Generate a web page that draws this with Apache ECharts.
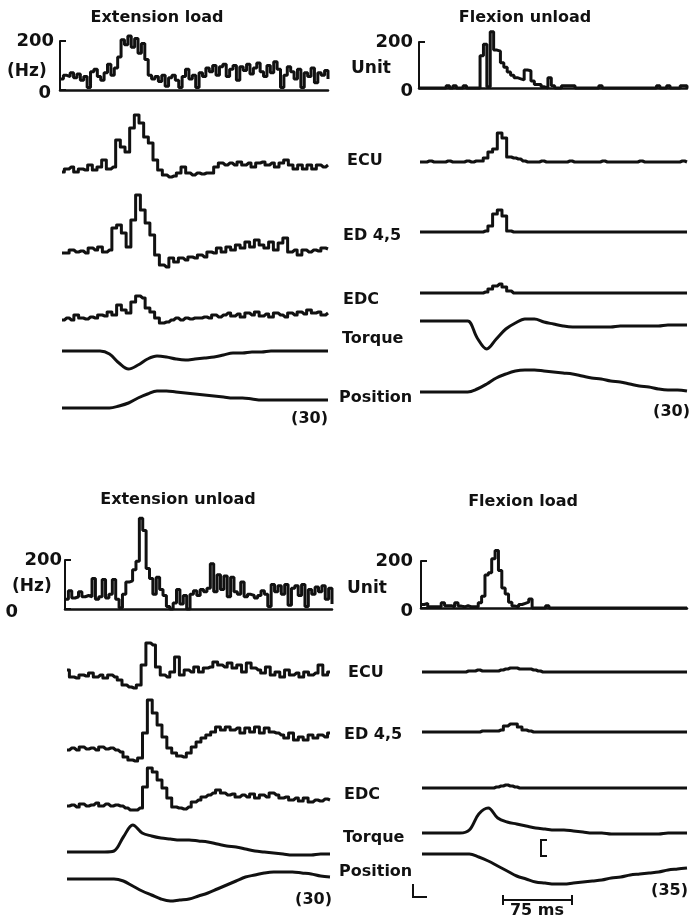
<!DOCTYPE html>
<html>
<head>
<meta charset="utf-8">
<title>Unit and EMG responses to load and unload</title>
<script src="https://cdn.jsdelivr.net/npm/echarts@6/dist/echarts.min.js"></script>
<style>
  html, body { margin: 0; padding: 0; background: #fff; }
  #chart { width: 694px; height: 918px; }
</style>
</head>
<body>
<div id="chart"></div>
<script>
// histogram axis ticks (Hz)
const histTicks = [0, 200];

// Extension load
const extLoadUnit = [45, 60, 55, 70, 50, 65, 40, 55, 10, 75, 85, 55, 40, 70, 105, 60, 90,
  135, 205, 185, 220, 175, 210, 150, 190, 125, 60, 45, 55, 35, 60, 15, 50, 60, 40, 10,
  55, 85, 45, 60, 10, 70, 55, 90, 75, 100, 60, 95, 105, 55, 85, 100, 40, 95, 80, 105,
  65, 90, 110, 75, 55, 100, 70, 115, 85, 10, 60, 95, 75, 45, 85, 10, 70, 55, 90, 30, 70, 60, 80, 45];
const extLoadEcu = [8, 11, 13, 8, 11, 10, 15, 10, 13, 20, 11, 13, 40, 33, 28, 52, 65, 57, 43, 37,
  20, 10, 5, 3, 4, 7, 13, 7, 5, 7, 6, 7, 7, 13, 17, 15, 17, 15, 18, 15, 17, 13, 17, 18, 15, 17,
  13, 17, 20, 15, 11, 15, 11, 15, 11, 15, 13, 15];
const extLoadEd = [17, 17, 20, 18, 19, 17, 22, 20, 23, 18, 20, 42, 45, 37, 23, 50, 75, 60, 47, 35,
  15, 5, 3, 12, 8, 12, 10, 13, 12, 15, 13, 18, 17, 22, 18, 23, 20, 25, 22, 28, 23, 30, 25, 22,
  28, 20, 27, 32, 18, 20, 15, 20, 18, 20, 19, 22, 21];
const extLoadEdc = [6, 8, 6, 11, 8, 7, 9, 8, 11, 10, 14, 11, 21, 16, 13, 24, 30, 28, 18, 14, 8, 3,
  4, 6, 8, 6, 8, 7, 8, 8, 9, 8, 11, 9, 11, 13, 10, 12, 9, 13, 11, 14, 10, 12, 9, 13, 11, 9, 13,
  11, 14, 12, 16, 13, 14, 11, 13];
const extLoadTorque = [24, 24, 24, 24, 24, 21, 12, 6, 10, 16, 19, 18, 16, 15, 16, 17, 18, 20, 22,
  22, 23, 23, 24, 24, 24, 24, 24, 24, 24];
const extLoadPosition = [4, 4, 4, 4, 4, 4, 6, 9, 14, 18, 21, 21, 20, 19, 18, 17, 16, 15, 14, 14,
  13, 12, 12, 12, 12, 12, 12, 12, 12];

// Flexion unload
const flexUnloadUnit = [0, 0, 0, 0, 0, 0, 0, 0, 10, 0, 10, 0, 0, 10, 0, 0, 0, 0, 140, 190, 5, 245,
  165, 160, 110, 90, 70, 55, 45, 40, 35, 78, 75, 30, 15, 15, 5, 0, 45, 10, 0, 0, 10, 10, 10, 10,
  0, 0, 0, 0, 0, 0, 0, 10, 0, 0, 0, 0, 0, 0, 0, 0, 0, 0, 0, 0, 0, 0, 0, 0, 10, 0, 0, 10, 0, 0, 0,
  10, 10, 0];
const flexUnloadEcu = [4, 4, 5, 4, 4, 4, 5, 4, 4, 4, 5, 4, 5, 5, 8, 14, 17, 33, 28, 9, 8, 7, 5,
  4, 4, 4, 5, 4, 4, 4, 4, 4, 5, 4, 4, 4, 4, 4, 4, 5, 4, 4, 4, 4, 4, 4, 4, 5, 4, 4, 4, 4, 4, 4,
  4, 4, 5, 4];
const flexUnloadEd = [4, 4, 4, 4, 4, 4, 4, 4, 4, 4, 4, 4, 4, 4, 5, 10, 22, 26, 20, 5, 4, 4, 4, 4,
  4, 4, 4, 4, 4, 4, 4, 4, 4, 4, 4, 4, 4, 4, 4, 4, 4, 4, 4, 4, 4, 4, 4, 4, 4, 4, 4, 4, 4, 4, 4,
  4, 4, 4];
const flexUnloadEdc = [4, 4, 4, 4, 4, 4, 4, 4, 4, 4, 4, 4, 4, 4, 5, 8, 11, 13, 10, 6, 4, 4, 4, 4,
  4, 4, 4, 4, 4, 4, 4, 4, 4, 4, 4, 4, 4, 4, 4, 4, 4, 4, 4, 4, 4, 4, 4, 4, 4, 4, 4, 4, 4, 4, 4,
  4, 4, 4];
const flexUnloadTorque = [33, 33, 33, 33, 33, 33, 16, 5, 15, 25, 31, 35, 35, 32, 30, 28, 27, 27,
  27, 27, 27, 28, 28, 28, 28, 28, 29, 29, 29];
const flexUnloadPosition = [4, 4, 4, 4, 4, 4, 7, 12, 18, 22, 25, 26, 26, 25, 24, 23, 22, 20, 18,
  17, 15, 14, 12, 10, 9, 7, 6, 6, 5];

// Extension unload
const extUnloadUnit = [40, 75, 45, 50, 70, 50, 55, 50, 125, 40, 50, 120, 45, 60, 120, 40, 5, 60,
  110, 115, 160, 195, 370, 320, 165, 125, 60, 130, 80, 55, 10, 0, 25, 80, 20, 55, 0, 60, 75, 55,
  80, 70, 85, 185, 70, 140, 80, 135, 50, 130, 70, 60, 110, 50, 60, 55, 45, 55, 75, 60, 10, 100,
  70, 95, 60, 100, 15, 85, 95, 55, 100, 10, 80, 60, 90, 70, 95, 40, 85, 20];
const extUnloadEcu = [22, 15, 14, 17, 16, 19, 15, 17, 14, 17, 15, 12, 7, 5, 4, 7, 27, 49, 47, 25,
  17, 15, 20, 35, 17, 22, 20, 25, 20, 24, 25, 30, 27, 25, 29, 24, 27, 20, 29, 24, 22, 19, 25,
  17, 20, 15, 22, 17, 19, 15, 20, 17, 19, 27, 17, 20];
const extUnloadEd = [14, 16, 14, 17, 15, 16, 14, 17, 15, 16, 14, 12, 7, 4, 3, 6, 31, 64, 51, 39,
  27, 16, 11, 8, 7, 11, 17, 22, 26, 29, 32, 37, 34, 37, 34, 36, 31, 36, 32, 37, 31, 36, 32, 31,
  29, 26, 31, 24, 27, 24, 29, 26, 29, 27, 31];
const extUnloadEdc = [6, 7, 5, 8, 6, 7, 9, 6, 8, 6, 7, 6, 4, 2, 2, 4, 25, 44, 40, 32, 24, 14, 5,
  4, 3, 5, 10, 12, 15, 17, 19, 22, 19, 17, 18, 15, 17, 15, 18, 14, 17, 15, 19, 17, 14, 15, 12,
  14, 11, 14, 10, 12, 11, 13, 12];
const extUnloadTorque = [6, 6, 6, 6, 6, 7, 21, 33, 25, 22, 20, 19, 18, 18, 17, 16, 14, 12, 11, 9,
  7, 6, 5, 4, 3, 3, 3, 4, 4];
const extUnloadPosition = [26, 26, 26, 26, 26, 26, 24, 19, 14, 10, 6, 4, 5, 6, 9, 12, 16, 20, 24,
  28, 30, 32, 33, 33, 33, 32, 31, 29, 28];

// Flexion load
const flexLoadUnit = [15, 20, 5, 5, 5, 5, 22, 10, 10, 5, 22, 8, 5, 10, 5, 5, 5, 22, 50, 140, 150,
  210, 245, 160, 85, 60, 25, 8, 5, 15, 20, 25, 38, 0, 0, 0, 0, 10, 0, 0, 0, 0, 0, 0, 0, 0, 0, 0,
  0, 0, 0, 0, 0, 0, 0, 0, 0, 0, 0, 0, 0, 0, 0, 0, 0, 0, 0, 0, 0, 0, 0, 0, 0, 0, 0, 0, 0, 0, 0, 0];
const flexLoadEcu = [4, 4, 4, 4, 4, 4, 4, 4, 4, 4, 5, 5, 6, 5, 5, 5, 5, 6, 7, 8, 8, 7, 7, 7, 6, 5,
  4, 4, 4, 4, 4, 4, 4, 4, 4, 4, 4, 4, 4, 4, 4, 4, 4, 4, 4, 4, 4, 4, 4, 4, 4, 4, 4, 4, 4, 4, 4, 4];
const flexLoadEd = [4, 4, 4, 4, 4, 4, 4, 4, 4, 4, 4, 4, 4, 5, 5, 5, 5, 6, 10, 12, 12, 9, 6, 5, 4,
  4, 4, 4, 4, 4, 4, 4, 4, 4, 4, 4, 4, 4, 4, 4, 4, 4, 4, 4, 4, 4, 4, 4, 4, 4, 4, 4, 4, 4, 4, 4, 4, 4];
const flexLoadEdc = [4, 4, 4, 4, 4, 4, 4, 4, 4, 4, 4, 4, 4, 4, 4, 4, 5, 6, 7, 6, 5, 4, 4, 4, 4, 4,
  4, 4, 4, 4, 4, 4, 4, 4, 4, 4, 4, 4, 4, 4, 4, 4, 4, 4, 4, 4, 4, 4, 4, 4, 4, 4, 4, 4, 4, 4, 4, 4];
const flexLoadTorque = [5, 5, 5, 5, 5, 8, 24, 30, 20, 16, 14, 12, 10, 9, 8, 8, 7, 6, 5, 5, 4, 4, 4,
  4, 4, 4, 5, 5, 5];
const flexLoadPosition = [34, 34, 34, 34, 34, 34, 31, 27, 22, 17, 12, 9, 6, 5, 4, 4, 5, 6, 7, 8,
  10, 11, 13, 14, 15, 16, 18, 19, 20];

const FONT = '"DejaVu Sans", "Liberation Sans", sans-serif';
const INK = '#111111';

// layout of the four panels: histogram box, then traces as [data, bottom, height, kind]
const panels = [
  {
    hist: extLoadUnit, box: { left: 60, top: 41, width: 268, height: 49 }, margin: 6, zeroPad: 3,
    x0: 62, x1: 328,
    traces: [[extLoadEcu, 180, 70, 'emg'], [extLoadEd, 270, 80, 'emg'], [extLoadEdc, 326, 36, 'emg'],
      [extLoadTorque, 375, 30, 'smooth'], [extLoadPosition, 412, 27, 'smooth']]
  },
  {
    hist: flexUnloadUnit, box: { left: 419, top: 42, width: 268, height: 46 }, margin: 6, zeroPad: 0,
    x0: 420, x1: 687,
    traces: [[flexUnloadEcu, 166, 38, 'emg'], [flexUnloadEd, 236, 31, 'emg'], [flexUnloadEdc, 297, 17, 'emg'],
      [flexUnloadTorque, 354, 40, 'smooth'], [flexUnloadPosition, 396, 30, 'smooth']]
  },
  {
    hist: extUnloadUnit, box: { left: 65, top: 560, width: 267, height: 49 }, margin: 3, zeroPad: 44,
    x0: 67, x1: 330,
    traces: [[extUnloadEcu, 692, 54, 'emg'], [extUnloadEd, 764, 68, 'emg'], [extUnloadEdc, 812, 48, 'emg'],
      [extUnloadTorque, 858, 38, 'smooth'], [extUnloadPosition, 905, 37, 'smooth']]
  },
  {
    hist: flexLoadUnit, box: { left: 421, top: 561, width: 266, height: 47 }, margin: 8, zeroPad: 0,
    x0: 422, x1: 687,
    traces: [[flexLoadEcu, 676, 16, 'emg'], [flexLoadEd, 736, 18, 'emg'], [flexLoadEdc, 792, 12, 'emg'],
      [flexLoadTorque, 838, 34, 'smooth'], [flexLoadPosition, 888, 38, 'smooth']]
  }
];

const grids = [];
const xAxes = [];
const yAxes = [];
const series = [];

const labelFont = { fontFamily: FONT, fontSize: 18, fontWeight: 'bold', color: INK };

function addHistogram(p) {
  const gi = grids.length;
  grids.push({ left: p.box.left, top: p.box.top, width: p.box.width, height: p.box.height });
  xAxes.push({
    type: 'category', gridIndex: gi, boundaryGap: false,
    data: p.hist.map((_, i) => i),
    axisLine: { show: true, lineStyle: { color: INK, width: 2.5 } },
    axisTick: { show: false }, axisLabel: { show: false }, splitLine: { show: false }
  });
  yAxes.push({
    type: 'value', gridIndex: gi,
    min: histTicks[0], max: histTicks[1], interval: histTicks[1] - histTicks[0],
    axisLine: { show: true, lineStyle: { color: INK, width: 2 } },
    axisTick: { show: true, inside: true, length: 6, lineStyle: { color: INK, width: 2 } },
    splitLine: { show: false },
    axisLabel: {
      margin: p.margin,
      formatter: v => (v === 0 ? '{z|0}' : '{t|' + v + '}'),
      rich: {
        z: Object.assign({ padding: [6, p.zeroPad, 0, 0] }, labelFont),
        t: Object.assign({}, labelFont)
      }
    }
  });
  series.push({
    type: 'line', xAxisIndex: gi, yAxisIndex: gi, data: p.hist,
    step: 'end', symbol: 'none', clip: false, silent: true,
    lineStyle: { color: INK, width: 3 }
  });
}

function addTrace(p, tr) {
  const [values, bottom, h, kind] = tr;
  const gi = grids.length;
  grids.push({ left: p.x0, top: bottom - h, width: p.x1 - p.x0, height: h });
  xAxes.push({ type: 'category', gridIndex: gi, show: false, boundaryGap: false, data: values.map((_, i) => i) });
  yAxes.push({ type: 'value', gridIndex: gi, show: false, min: 0, max: h });
  series.push({
    type: 'line', xAxisIndex: gi, yAxisIndex: gi, data: values,
    step: kind === 'emg' ? 'middle' : false,
    smooth: kind === 'smooth' ? 0.35 : false,
    symbol: 'none', clip: false, silent: true,
    lineStyle: { color: INK, width: 3, join: 'round' }
  });
}

panels.forEach(p => {
  addHistogram(p);
  p.traces.forEach(tr => addTrace(p, tr));
});

function txt(text, x, y, align, size) {
  return {
    type: 'text', x: x, y: y, silent: true,
    style: {
      text: text, fill: INK, font: 'bold ' + (size || 16) + 'px ' + FONT,
      align: align || 'left', verticalAlign: 'middle',
      textAlign: align || 'left', textVerticalAlign: 'middle'
    }
  };
}

function line(points) {
  return {
    type: 'polyline', silent: true,
    shape: { points: points },
    style: { stroke: INK, lineWidth: 2, fill: null }
  };
}

const graphic = [
  txt('Extension load', 157, 18, 'center'),
  txt('Flexion unload', 525, 18, 'center'),
  txt('Extension unload', 178, 500, 'center'),
  txt('Flexion load', 523, 502, 'center'),
  txt('(Hz)', 7, 72, 'left', 17),
  txt('(Hz)', 12, 587, 'left', 17),
  txt('Unit', 351, 69, 'left', 17),
  txt('Unit', 347, 589, 'left', 17),
  txt('ECU', 347, 161),
  txt('ED 4,5', 343, 236),
  txt('EDC', 343, 300),
  txt('Torque', 342, 339),
  txt('Position', 339, 398),
  txt('ECU', 348, 673),
  txt('ED 4,5', 344, 735),
  txt('EDC', 344, 795),
  txt('Torque', 343, 838),
  txt('Position', 339, 872),
  txt('(30)', 328, 419, 'right'),
  txt('(30)', 690, 412, 'right'),
  txt('(30)', 332, 900, 'right'),
  txt('(35)', 688, 891, 'right'),
  txt('75 ms', 537, 911, 'center'),
  // calibration marks
  line([[547, 840], [541, 840], [541, 856], [547, 856]]),
  line([[413, 884], [413, 897], [427, 897]]),
  line([[503, 900], [572, 900]]),
  line([[503, 895], [503, 905]]),
  line([[572, 895], [572, 905]])
];

const chart = echarts.init(document.getElementById('chart'), null, { renderer: 'canvas' });
chart.setOption({
  backgroundColor: '#ffffff',
  animation: false,
  grid: grids,
  xAxis: xAxes,
  yAxis: yAxes,
  series: series,
  graphic: graphic
});
</script>
</body>
</html>
